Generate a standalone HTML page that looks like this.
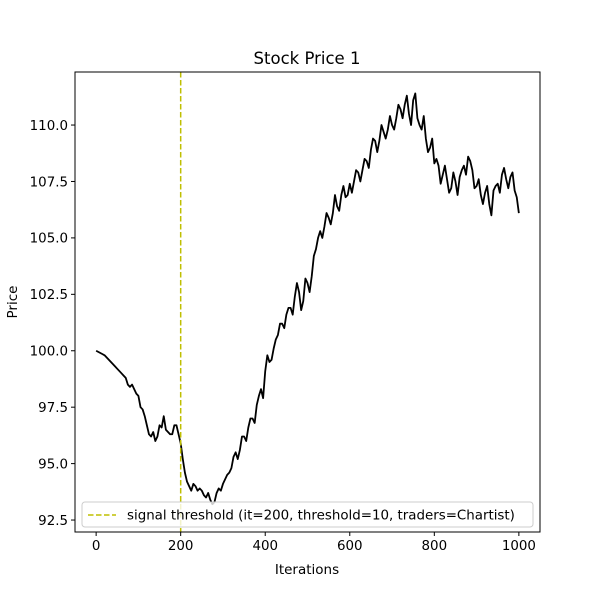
<!DOCTYPE html>
<html><head><meta charset="utf-8"><style>
body{margin:0;background:#fff;}
svg text{font-family:"DejaVu Sans","Liberation Sans",sans-serif;fill:#000;}
</style></head><body>
<svg id="chart" width="600" height="600" viewBox="0 0 600 600" xmlns="http://www.w3.org/2000/svg">
<rect width="600" height="600" fill="#fff"/>
<text x="307" y="64" font-size="16.5" text-anchor="middle">Stock Price 1</text>
<path id="series" fill="none" stroke="#000" stroke-width="1.8" stroke-linejoin="round"/>
<line id="thresh" stroke="#bfbf00" stroke-width="1.5" stroke-dasharray="5.5,2.5"/>
<rect x="75" y="72" width="465" height="460" fill="none" stroke="#000" stroke-width="1"/>
<g id="ticks"></g>
<text x="307" y="574" font-size="13.5" text-anchor="middle">Iterations</text>
<text x="17" y="302" font-size="13.5" text-anchor="middle" transform="rotate(-90 17 302)">Price</text>
<g>
<rect x="82" y="502" width="451" height="25" rx="3" fill="#fff" fill-opacity="0.8" stroke="#ccc"/>
<line x1="88" y1="515" x2="116" y2="515" stroke="#bfbf00" stroke-width="1.5" stroke-dasharray="5.5,2.5"/>
<text x="127" y="519.5" font-size="13.4">signal threshold (it=200, threshold=10, traders=Chartist)</text>
</g>
</svg>
<script>
const iterStep = 10;
const prices = [100.0,99.9,99.8,99.6,99.4,99.2,99.0,98.8,98.4,98.3,
98.0,97.4,96.7,96.2,96.0,96.7,97.1,96.4,96.3,96.7,
95.9,94.6,94.0,94.1,93.8,93.8,93.5,93.4,93.3,93.9,
94.1,94.5,94.8,95.5,95.6,96.2,96.6,97.0,97.6,98.3,
99.1,99.5,100.1,100.7,101.2,101.6,101.9,102.4,102.6,102.2,
103.0,103.3,104.5,105.3,105.5,105.9,106.1,106.4,106.9,106.8,
107.4,107.5,107.9,108.0,108.4,108.9,109.3,109.3,109.7,109.8,
110.0,110.3,110.7,110.9,110.5,111.1,110.3,109.8,109.4,109.0,
108.3,108.2,107.8,107.6,107.2,107.5,107.7,108.2,108.6,108.0,
107.3,106.9,107.0,106.5,107.1,107.4,107.8,107.6,107.7,107.1,106.1];
const midPrices = [99.95,99.85,99.7,99.5,99.3,99.1,98.9,98.5,98.5,98.1,
97.5,97.1,96.3,96.4,96.2,96.6,96.5,96.3,96.7,96.3,
95.2,94.2,93.8,94.0,93.9,93.6,93.7,93.2,93.7,93.8,
94.3,94.6,95.3,95.2,96.2,96.0,97.0,96.8,98.0,97.9,
99.8,99.6,100.5,101.2,101.0,101.9,101.6,103.0,101.8,103.2,
102.6,104.2,105.0,105.0,106.1,105.6,106.9,106.2,107.3,106.9,
107.0,108.0,107.5,108.5,108.1,109.4,108.8,110.0,109.4,110.4,
109.8,110.9,110.3,111.3,110.0,111.4,110.0,110.4,108.8,109.4,
108.5,107.4,108.2,107.0,107.9,106.9,108.0,107.8,108.4,107.2,
107.6,106.5,107.3,106.0,107.3,107.0,108.1,107.2,107.9,106.8];
const xTicks = [0,200,400,600,800,1000];
const yTicks = [92.5,95.0,97.5,100.0,102.5,105.0,107.5,110.0];
const thresholdIter = 200;

const X0=75,X1=540,Y0=72,Y1=532;
const xMin=-50,xMax=1050,yMin=91.97,yMax=112.35;
function sx(v){return X0+(v-xMin)/(xMax-xMin)*(X1-X0);}
function sy(v){return Y1-(v-yMin)/(yMax-yMin)*(Y1-Y0);}
const NS="http://www.w3.org/2000/svg";
let d="";
prices.forEach((p,i)=>{
  d+=(i?"L":"M")+sx(i*iterStep).toFixed(2)+","+sy(p).toFixed(2);
  if(i<midPrices.length) d+="L"+sx(i*iterStep+iterStep/2).toFixed(2)+","+sy(midPrices[i]).toFixed(2);
});
document.getElementById("series").setAttribute("d",d);
const th=document.getElementById("thresh");
th.setAttribute("x1",sx(thresholdIter));th.setAttribute("x2",sx(thresholdIter));
th.setAttribute("y1",Y0);th.setAttribute("y2",Y1);
const g=document.getElementById("ticks");
xTicks.forEach(t=>{
  const l=document.createElementNS(NS,"line");
  l.setAttribute("x1",sx(t));l.setAttribute("x2",sx(t));l.setAttribute("y1",Y1);l.setAttribute("y2",Y1+4);l.setAttribute("stroke","#000");
  
  
  g.appendChild(l);
  const tx=document.createElementNS(NS,"text");
  tx.setAttribute("x",sx(t));tx.setAttribute("y",Y1+18);tx.setAttribute("font-size","13.4");tx.setAttribute("text-anchor","middle");
  tx.textContent=t;
  
  
  g.appendChild(tx);
});
yTicks.forEach(t=>{
  const l=document.createElementNS(NS,"line");
  l.setAttribute("x1",X0-4);l.setAttribute("x2",X0);l.setAttribute("y1",sy(t));l.setAttribute("y2",sy(t));l.setAttribute("stroke","#000");
  
  
  g.appendChild(l);
  const tx=document.createElementNS(NS,"text");
  tx.setAttribute("x",X0-7);tx.setAttribute("y",sy(t)+4.8);tx.setAttribute("font-size","13.4");tx.setAttribute("text-anchor","end");
  tx.textContent=t.toFixed(1);
  
  
  g.appendChild(tx);
});
</script>
</body></html>
